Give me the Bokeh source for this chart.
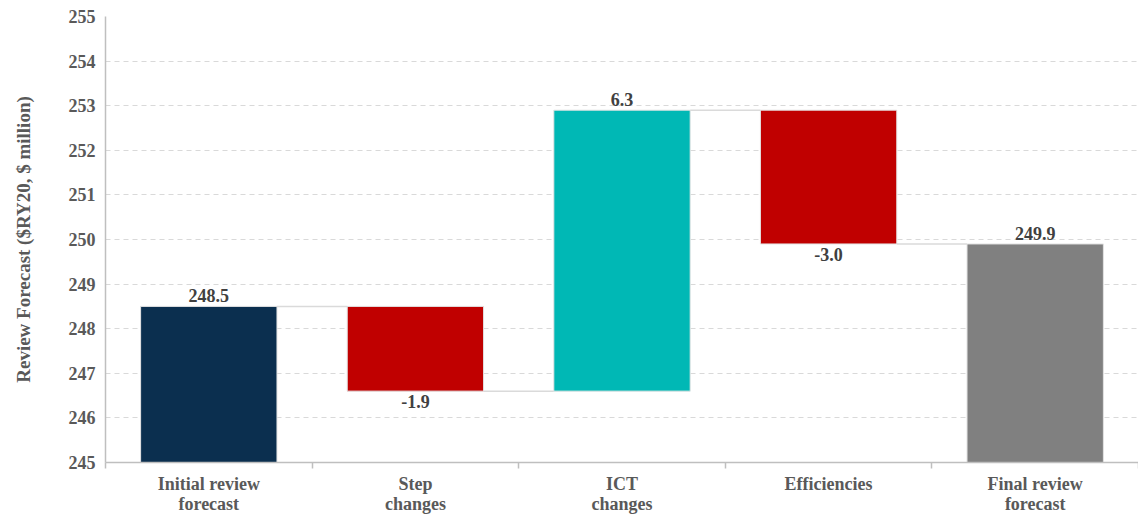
from bokeh.plotting import figure
from bokeh.models import Range1d, FixedTicker, ColumnDataSource
from bokeh.core.properties import value
from bokeh.embed import file_html
from bokeh.resources import INLINE

categories = ["Initial review\nforecast", "Step\nchanges", "ICT\nchanges", "Efficiencies", "Final review\nforecast"]
values = [248.5, -1.9, 6.3, -3.0, 249.9]
kinds = ["total", "delta", "delta", "delta", "total"]
colors = ["#0B2F4F", "#C00000", "#00B8B5", "#C00000", "#808080"]
y_ticks = [245, 246, 247, 248, 249, 250, 251, 252, 253, 254, 255]

BASE = 245
W = 0.66
FONT = "Liberation Serif"

xs, bottoms, tops, label_y, label_txt, label_up = [], [], [], [], [], []
running = 0.0
levels = []
for i, (v, k) in enumerate(zip(values, kinds)):
    x = i + 0.5
    if k == "total":
        b, t = BASE, v
        running = v
        label_y.append(t); label_up.append(True)
    else:
        b0 = running
        running = running + v
        b, t = min(b0, running), max(b0, running)
        if v >= 0:
            label_y.append(t); label_up.append(True)
        else:
            label_y.append(b); label_up.append(False)
    label_txt.append(f"{v:.1f}")
    levels.append(running)
    xs.append(x); bottoms.append(b); tops.append(t)

p = figure(width=1138, height=516, output_backend="svg", toolbar_location=None,
           x_range=Range1d(0, len(categories)), y_range=Range1d(245, 255),
           min_border_left=105, min_border_right=0, min_border_top=16, min_border_bottom=0)
p.outline_line_color = None
p.background_fill_color = "white"
p.border_fill_color = "white"

p.xgrid.grid_line_color = None
p.ygrid.grid_line_color = "#D9D9D9"
p.ygrid.grid_line_dash = "5 4"
p.ygrid.grid_line_width = 1.2

src = ColumnDataSource(dict(x=xs, bottom=bottoms, top=tops, color=colors))
p.vbar(x="x", bottom="bottom", top="top", width=W, fill_color="color",
       line_color="#E3E3E3", line_width=1, source=src)

# connectors
cx0 = [xs[i] + W / 2 for i in range(len(xs) - 1)]
cx1 = [xs[i + 1] - W / 2 for i in range(len(xs) - 1)]
cy = [levels[i] for i in range(len(xs) - 1)]
p.segment(x0=cx0, y0=cy, x1=cx1, y1=cy, line_color="#DADADA", line_width=1.5)

# labels
up = [i for i in range(len(xs)) if label_up[i]]
dn = [i for i in range(len(xs)) if not label_up[i]]
p.text(x=[xs[i] for i in up], y=[label_y[i] for i in up], text=[label_txt[i] for i in up],
       text_align="center", text_baseline="bottom", y_offset=-4,
       text_font=value(FONT), text_font_style="bold", text_font_size="18px", text_color="#404040")
p.text(x=[xs[i] for i in dn], y=[label_y[i] for i in dn], text=[label_txt[i] for i in dn],
       text_align="center", text_baseline="top", y_offset=4,
       text_font=value(FONT), text_font_style="bold", text_font_size="18px", text_color="#404040")

# axes
p.xaxis.ticker = FixedTicker(ticks=xs, minor_ticks=list(range(0, len(categories) + 1)))
p.xaxis.major_label_overrides = {x: c for x, c in zip(xs, categories)}
p.xaxis.major_tick_line_color = None
p.xaxis.major_tick_out = 0
p.xaxis.minor_tick_line_color = "#BFBFBF"
p.xaxis.minor_tick_line_width = 1.5
p.xaxis.minor_tick_out = 6
p.xaxis.minor_tick_in = 0
p.xaxis.axis_line_color = "#BFBFBF"
p.xaxis.axis_line_width = 1.5
p.xaxis.major_label_text_font = FONT
p.xaxis.major_label_text_font_style = "bold"
p.xaxis.major_label_text_font_size = "18px"
p.xaxis.major_label_text_line_height = 1.0
p.xaxis.major_label_text_color = "#595959"
p.xaxis.major_label_standoff = 5

p.yaxis.ticker = FixedTicker(ticks=y_ticks)
p.yaxis.axis_line_color = "#BFBFBF"
p.yaxis.axis_line_width = 1.5
p.yaxis.major_tick_line_color = None
p.yaxis.major_tick_out = 0
p.yaxis.minor_tick_line_color = None
p.yaxis.major_label_text_font = FONT
p.yaxis.major_label_text_font_style = "bold"
p.yaxis.major_label_text_font_size = "18px"
p.yaxis.major_label_text_color = "#595959"
p.yaxis.major_label_standoff = 10
p.yaxis.axis_label = "Review Forecast ($RY20, $ million)"
p.yaxis.axis_label_text_font = FONT
p.yaxis.axis_label_text_font_style = "bold"
p.yaxis.axis_label_text_font_size = "19px"
p.yaxis.axis_label_text_color = "#595959"
p.yaxis.axis_label_standoff = 32

open("out.html", "w").write(file_html(p, INLINE))
